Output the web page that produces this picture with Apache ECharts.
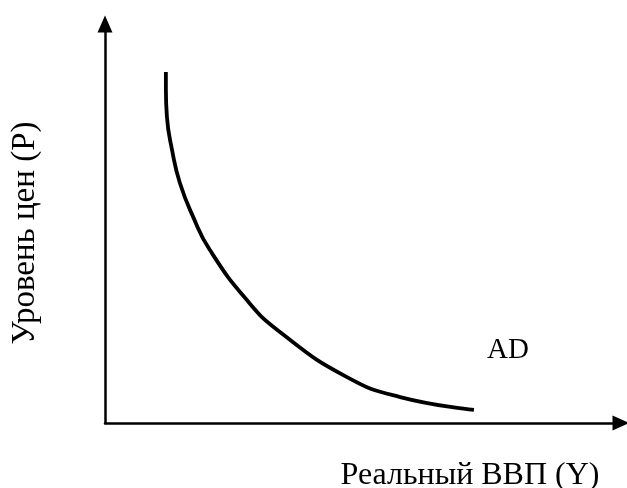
<!DOCTYPE html>
<html>
<head>
<meta charset="utf-8">
<script src="https://cdn.jsdelivr.net/npm/echarts@6/dist/echarts.min.js"></script>
<style>html,body{margin:0;padding:0;background:#fff}#c{width:627px;height:488px}</style>
</head>
<body>
<div id="c"></div>
<script>
// AD curve: real GDP (x) vs price level (y), on a 0–100 unitless scale
const adX = [11.8, 11.8, 12.0, 13.0, 14.5, 17.1, 20.3, 27.5, 33.9, 46.9, 57.2, 71.5];
const adY = [88.0, 83.5, 76.7, 68.4, 60.2, 51.6, 43.4, 30.8, 22.8, 11.5, 6.5, 3.3];
const xTitle = 'Реальный ВВП (Y)';
const yTitle = 'Уровень цен (P)';
const curveLabel = 'AD';

const chart = echarts.init(document.getElementById('c'), null, {renderer: 'canvas'});
const font = '"Liberation Serif", "DejaVu Serif", serif';
chart.setOption({
  animation: false,
  backgroundColor: '#fff',
  grid: {left: 105, right: 6, top: 24, bottom: 65},
  xAxis: {
    type: 'value', min: 0, max: 100,
    axisLine: {show: true, lineStyle: {color: '#000', width: 2.5}, symbol: ['none', 'triangle'], symbolSize: [15, 17]},
    axisTick: {show: false}, axisLabel: {show: false}, splitLine: {show: false}
  },
  yAxis: {
    type: 'value', min: 0, max: 100,
    axisLine: {show: true, lineStyle: {color: '#000', width: 2.5}, symbol: ['none', 'triangle'], symbolSize: [15, 17]},
    axisTick: {show: false}, axisLabel: {show: false}, splitLine: {show: false}
  },
  series: [{
    type: 'line',
    data: adX.map((x, i) => [x, adY[i]]),
    smooth: 0.5,
    showSymbol: false,
    lineStyle: {color: '#000', width: 3.8}
  }],
  graphic: [
    {type: 'text', x: 470, y: 476, style: {text: xTitle, font: '32px ' + font, fill: '#000', textAlign: 'center', textVerticalAlign: 'middle'}},
    {type: 'text', x: 25, y: 233, rotation: Math.PI / 2, style: {text: yTitle, font: '33px ' + font, fill: '#000', textAlign: 'center', textVerticalAlign: 'middle'}},
    {type: 'text', x: 508, y: 350, style: {text: curveLabel, font: '29px ' + font, fill: '#000', textAlign: 'center', textVerticalAlign: 'middle'}}
  ]
});
</script>
</body>
</html>
